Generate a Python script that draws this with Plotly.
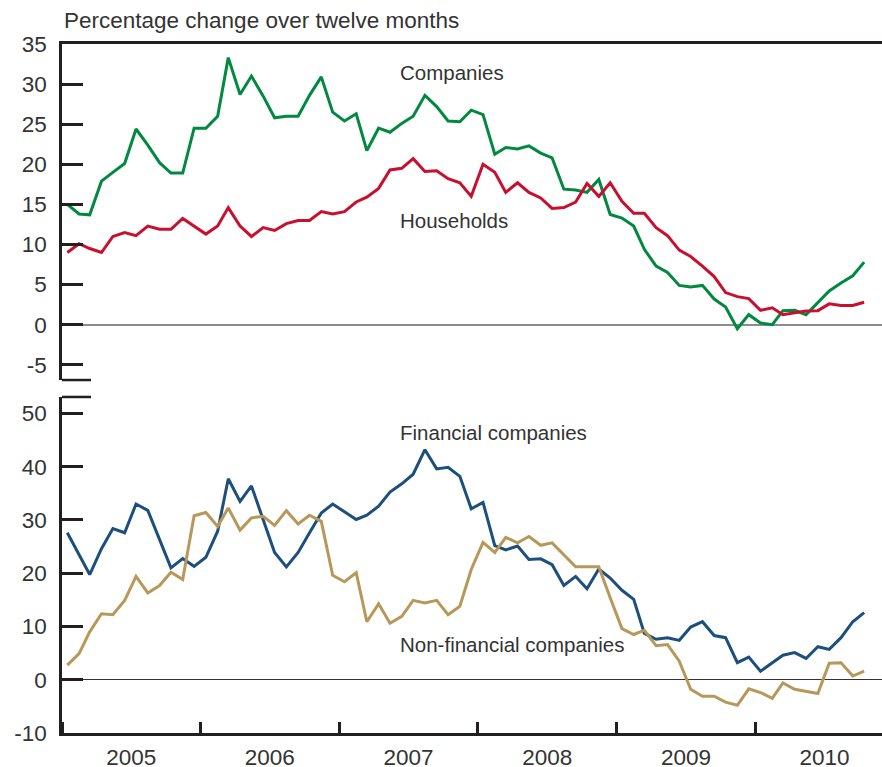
import pandas as pd
import plotly.graph_objects as go

# monthly observations, Jan 2005 - Oct 2010 (plotted mid-month)
months = pd.date_range("2005-01-01", periods=70, freq="MS") + pd.Timedelta(days=14)

companies = [
    15.0, 13.8, 13.7, 17.9, 19.0, 20.1, 24.4, 22.4, 20.2, 18.9, 18.9, 24.5,
    24.5, 26.0, 33.3, 28.7, 31.0, 28.5, 25.8, 26.0, 26.0, 28.6, 30.9, 26.5,
    25.4, 26.3, 21.7, 24.5, 24.0, 25.1, 26.0, 28.6, 27.2, 25.4, 25.3, 26.75,
    26.2, 21.25, 22.1, 21.9, 22.3, 21.4, 20.8, 16.9, 16.8, 16.5, 18.1, 13.75,
    13.3, 12.3, 9.4, 7.3, 6.5, 4.9, 4.7, 4.9, 3.2, 2.2, -0.5, 1.25,
    0.2, 0.0, 1.75, 1.8, 1.25, 2.7, 4.2, 5.2, 6.1, 7.8,
]
households = [
    9.0, 10.1, 9.5, 9.0, 11.0, 11.5, 11.1, 12.3, 11.9, 11.9, 13.25, 12.3,
    11.3, 12.3, 14.6, 12.3, 11.0, 12.1, 11.75, 12.6, 13.0, 13.0, 14.1, 13.8,
    14.1, 15.3, 15.9, 17.0, 19.3, 19.5, 20.7, 19.1, 19.2, 18.2, 17.7, 16.0,
    20.0, 19.0, 16.5, 17.7, 16.5, 15.8, 14.5, 14.6, 15.3, 17.6, 16.0, 17.7,
    15.4, 13.9, 13.9, 12.1, 11.1, 9.3, 8.5, 7.3, 6.0, 4.0, 3.5, 3.25,
    1.8, 2.1, 1.25, 1.5, 1.7, 1.75, 2.6, 2.4, 2.4, 2.8,
]
financial = [
    27.6, 23.5, 19.75, 24.6, 28.4, 27.6, 33.0, 31.8, 26.4, 21.0, 22.75, 21.3,
    23.0, 27.9, 37.75, 33.5, 36.4, 30.1, 23.9, 21.2, 23.9, 27.6, 31.3, 33.0,
    31.5, 30.1, 30.9, 32.6, 35.25, 36.8, 38.6, 43.2, 39.6, 39.9, 38.2, 32.1,
    33.3, 25.2, 24.4, 25.1, 22.6, 22.7, 21.6, 17.7, 19.4, 17.1, 20.8, 19.1,
    16.8, 15.1, 8.7, 7.6, 7.9, 7.4, 9.9, 10.9, 8.3, 7.9, 3.2, 4.25,
    1.6, 3.2, 4.6, 5.1, 4.0, 6.2, 5.7, 7.9, 10.9, 12.6,
]
non_financial = [
    2.75, 4.9, 9.0, 12.4, 12.2, 14.9, 19.4, 16.3, 17.7, 20.2, 18.8, 30.8,
    31.4, 28.8, 32.25, 28.1, 30.4, 30.7, 29.0, 31.75, 29.25, 30.9, 29.75, 19.6,
    18.4, 20.1, 10.9, 14.25, 10.6, 11.9, 14.9, 14.4, 14.9, 12.2, 13.8, 20.7,
    25.8, 23.9, 26.75, 25.7, 26.9, 25.25, 25.7, 23.5, 21.2, 21.2, 21.2, 15.4,
    9.6, 8.5, 9.3, 6.4, 6.6, 3.5, -1.8, -3.1, -3.1, -4.2, -4.8, -1.7,
    -2.4, -3.5, -0.6, -1.8, -2.25, -2.6, 3.1, 3.2, 0.7, 1.6,
]

top_ticks = [-5, 0, 5, 10, 15, 20, 25, 30, 35]
bottom_ticks = [-10, 0, 10, 20, 30, 40, 50]

GREEN = "#00893f"
RED = "#c8102e"
BLUE = "#1c4f7c"
GOLD = "#b8985a"
INK = "#231f20"
TEXT = "#333333"
FONT = "Liberation Sans"

fig = go.Figure()
fig.add_trace(go.Scatter(x=months, y=companies, mode="lines",
                         line=dict(color=GREEN, width=3), xaxis="x", yaxis="y"))
fig.add_trace(go.Scatter(x=months, y=households, mode="lines",
                         line=dict(color=RED, width=3), xaxis="x", yaxis="y"))
fig.add_trace(go.Scatter(x=months, y=financial, mode="lines",
                         line=dict(color=BLUE, width=3), xaxis="x2", yaxis="y2"))
fig.add_trace(go.Scatter(x=months, y=non_financial, mode="lines",
                         line=dict(color=GOLD, width=3), xaxis="x2", yaxis="y2"))

xrange = ["2005-01-01", "2010-12-01"]
yaxis_common = dict(
    showgrid=False, showline=True, linecolor=INK, linewidth=2.5,
    ticks="inside", ticklen=21, tickwidth=2.5, tickcolor=INK,
    tickfont=dict(family=FONT, size=22.5, color=TEXT),
    ticklabelstandoff=8, zeroline=True, automargin=False,
)

fig.update_layout(
    width=882, height=767,
    margin=dict(l=62, r=0, t=44, b=34),
    paper_bgcolor="white", plot_bgcolor="white",
    showlegend=False,
    xaxis=dict(domain=[0, 1], anchor="y", range=xrange, side="top",
               showline=True, linecolor=INK, linewidth=2.5,
               showticklabels=False, ticks="", showgrid=False, zeroline=False,
               automargin=False),
    xaxis2=dict(domain=[0, 1], anchor="y2", range=xrange,
                showline=True, linecolor=INK, linewidth=2.5,
                ticks="inside", ticklen=11, tickwidth=2.5, tickcolor=INK,
                tick0="2005-01-01", dtick="M12", tickformat="%Y",
                ticklabelmode="period", ticklabelstandoff=2,
                tickfont=dict(family=FONT, size=22.5, color=TEXT),
                showgrid=False, zeroline=False, automargin=False),
    yaxis=dict(domain=[0.5123, 1], anchor="x", range=[-6.9, 35],
               tickvals=top_ticks, ticktext=[str(v) for v in top_ticks],
               zerolinecolor="#8c8c8c", zerolinewidth=1.5,
               **yaxis_common),
    yaxis2=dict(domain=[0, 0.4877], anchor="x2", range=[-10, 53.1],
                tickvals=bottom_ticks, ticktext=[str(v) for v in bottom_ticks],
                zerolinecolor="#333333", zerolinewidth=1,
                **yaxis_common),
)

# axis-break stubs at the gap between the two panels
fig.add_shape(type="line", xref="paper", yref="y domain", x0=0, x1=0.0354,
              y0=0, y1=0, line=dict(color=INK, width=2.5))
fig.add_shape(type="line", xref="paper", yref="y2 domain", x0=0, x1=0.0354,
              y0=1, y1=1, line=dict(color=INK, width=2.5))

label_font = dict(family=FONT, size=20.5, color=TEXT)
fig.add_annotation(text="Percentage change over twelve months", xref="paper", yref="paper",
                   x=0, y=1.0334, xanchor="left", yanchor="middle", showarrow=False,
                   font=dict(family=FONT, size=22.5, color=TEXT))
for text, yref, yv in [("Companies", "y", 31.5), ("Households", "y", 13.0),
                       ("Financial companies", "y2", 46.5),
                       ("Non-financial companies", "y2", 6.7)]:
    fig.add_annotation(text=text, xref="paper", yref=yref, x=0.410, y=yv,
                       xanchor="left", yanchor="middle", showarrow=False,
                       font=label_font)

# the page body has a default 8px margin; drop it so the figure fills the window
fig.write_html("out.html", config={"displayModeBar": False},
               post_script="document.body.style.margin='0px';document.body.style.overflow='hidden';")
